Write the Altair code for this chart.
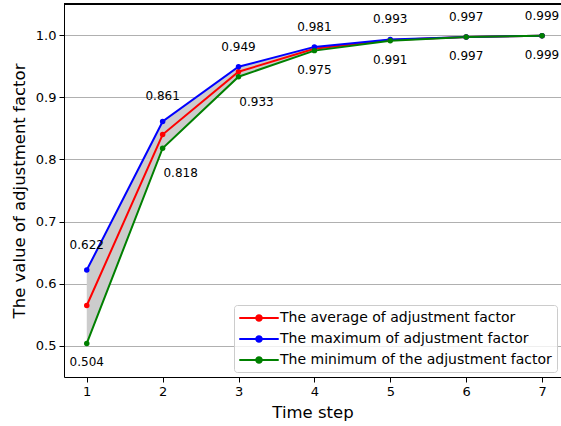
import altair as alt
import pandas as pd

steps = [1, 2, 3, 4, 5, 6, 7]
avg_vals = [0.565, 0.840, 0.941, 0.978, 0.992, 0.997, 0.999]
max_vals = [0.622, 0.861, 0.949, 0.981, 0.993, 0.997, 0.999]
min_vals = [0.504, 0.818, 0.933, 0.975, 0.991, 0.997, 0.999]
series_names = [
    "The average of adjustment factor",
    "The maximum of adjustment factor",
    "The minimum of the adjustment factor",
]
series_colors = ["#ff0000", "#0000ff", "#008000"]
y_ticks = [0.5, 0.6, 0.7, 0.8, 0.9, 1.0]

FONT = "DejaVu Sans"

rows = []
for name, vals in zip(series_names, [avg_vals, max_vals, min_vals]):
    for s, v in zip(steps, vals):
        rows.append({"step": s, "value": v, "series": name})
long_df = pd.DataFrame(rows)
band_df = pd.DataFrame({"step": steps, "hi": max_vals, "lo": min_vals,
                        "hi_lab": [f"{v:.3f}" for v in max_vals],
                        "lo_lab": [f"{v:.3f}" for v in min_vals]})

W, H = 497, 373
xscale = alt.Scale(domain=[0.7, 7.25], nice=False, zero=False)
yscale = alt.Scale(domain=[0.45, 1.05], nice=False, zero=False)

x_enc = alt.X("step:Q", scale=xscale,
              axis=alt.Axis(title="Time step", values=steps, format="d", grid=False,
                            titlePadding=6))
y_enc = alt.Y("value:Q", scale=yscale,
              axis=alt.Axis(title="The value of adjustment factor", values=y_ticks,
                            format=".1f", grid=True, titlePadding=8))

color_enc = alt.Color(
    "series:N",
    scale=alt.Scale(domain=series_names, range=series_colors),
    sort=series_names,
    legend=alt.Legend(
        title=None, orient="none", legendX=170, legendY=301,
        symbolType="M-3,0L3,0M-0.42,0A0.42,0.42,0,1,1,0.42,0A0.42,0.42,0,1,1,-0.42,0Z",
        symbolSize=173, symbolStrokeWidth=2, symbolOffset=12,
        labelFontSize=14, labelFont=FONT, labelLimit=0, labelColor="black",
        rowPadding=6, padding=5, fillColor="rgba(255,255,255,0.8)",
        strokeColor="#cccccc", cornerRadius=3, labelOffset=13,
    ),
)

area = alt.Chart(band_df).mark_area(color="#cccccc", opacity=1).encode(
    x=alt.X("step:Q", scale=xscale), y=alt.Y("hi:Q", scale=yscale), y2="lo:Q"
)

lines = alt.Chart(long_df).mark_line(strokeWidth=2).encode(
    x=x_enc, y=y_enc, color=color_enc, order=alt.Order("step:Q")
)
points = alt.Chart(long_df).mark_point(filled=True, size=30, opacity=1, shape="circle").encode(
    x=x_enc, y=y_enc, color=color_enc
)

def text_layer(field, lab, filt, dx, dy):
    return alt.Chart(band_df).transform_filter(filt).mark_text(
        font=FONT, fontSize=12, color="black", baseline="middle", align="center",
        dx=dx, dy=dy
    ).encode(x=alt.X("step:Q", scale=xscale), y=alt.Y(f"{field}:Q", scale=yscale),
             text=f"{lab}:N")

t_max_a = text_layer("hi", "hi_lab", "datum.step <= 2", 0, -25)
t_max_b = text_layer("hi", "hi_lab", "datum.step > 2", 0, -20)
t_min_a = text_layer("lo", "lo_lab", "datum.step == 2 || datum.step == 3", 18, 25)
t_min_b = text_layer("lo", "lo_lab", "datum.step == 1 || datum.step > 3", 0, 19)

top_spine = alt.Chart(band_df).mark_rule(color="black", strokeWidth=1).encode(
    x=alt.value(0), x2=alt.value(W), y=alt.value(0)
)

chart = alt.layer(
    area, lines, points, t_max_a, t_max_b, t_min_a, t_min_b, top_spine
).properties(
    width=W, height=H,
    autosize=alt.AutoSizeParams(type="none"),
    padding={"left": 64, "top": 4, "right": 0, "bottom": 49},
).configure_view(stroke=None).configure_axis(
    labelFont=FONT, titleFont=FONT, labelFontSize=13, titleFontSize=16.5,
    titleFontWeight="normal", labelColor="black", titleColor="black",
    domainColor="black", tickColor="black", tickSize=5, labelPadding=3,
    gridColor="#b0b0b0", gridWidth=1,
)

chart.save("out.html", embed_options={"renderer": "svg", "actions": False})
